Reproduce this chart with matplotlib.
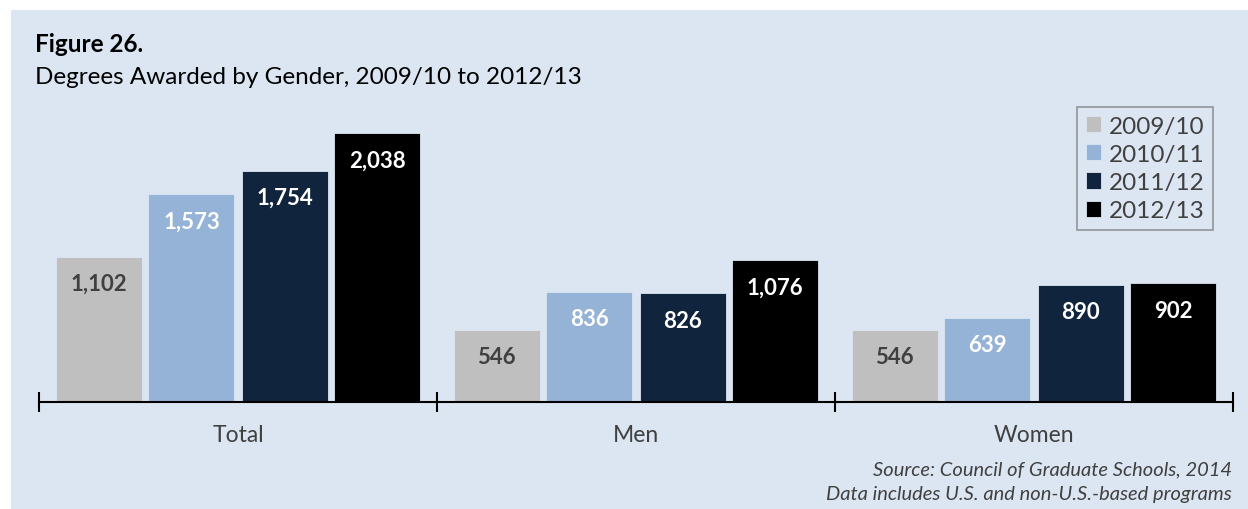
import numpy as np
from matplotlib import pyplot as plt
from matplotlib.patches import Rectangle

plt.rcParams['font.family'] = ['Lato', 'DejaVu Sans']

# Degrees awarded by gender
groups = ['Total', 'Men', 'Women']
years = ['2009/10', '2010/11', '2011/12', '2012/13']
values = {
    '2009/10': [1102, 546, 546],
    '2010/11': [1573, 836, 639],
    '2011/12': [1754, 826, 890],
    '2012/13': [2038, 1076, 902],
}
colors = ['#bfbfbf', '#95b3d7', '#10243e', '#000000']
label_colors = ['#404040', 'white', 'white', 'white']

fig = plt.figure(figsize=(12.48, 5.1), dpi=100)
fig.patch.set_facecolor('white')
fig.patches.append(Rectangle((11 / 1248, 0), 1, 499 / 510, transform=fig.transFigure,
                             facecolor='#dce6f2', edgecolor='none', zorder=-10))

ax = fig.add_axes([39 / 1248, 107 / 510, 1194 / 1248, 303 / 510])
ax.set_facecolor('none')

x = np.arange(len(groups))
offsets = [-0.35, -0.117, 0.117, 0.35]
width = 0.216
for i, yr in enumerate(years):
    bars = ax.bar(x + offsets[i], values[yr], width, color=colors[i], label=yr,
                  edgecolor='#dce6f2', linewidth=0.6)
    for b, v in zip(bars, values[yr]):
        ax.text(b.get_x() + b.get_width() / 2, v - 205, f'{v:,}', ha='center', va='center',
                fontsize=16, fontweight='bold', color=label_colors[i])

ax.set_xlim(-0.5, 2.5)
ax.set_ylim(0, 2296)
for s in ['top', 'right', 'left']:
    ax.spines[s].set_visible(False)
ax.spines['bottom'].set_linewidth(1.5)
ax.set_yticks([])
ax.set_xticks(x)
ax.set_xticklabels(groups, fontsize=16.5, color='#404040')
ax.tick_params(axis='x', which='major', length=0, pad=16)
ax.set_xticks([-0.5, 0.5, 1.5, 2.5], minor=True)
ax.tick_params(axis='x', which='minor', direction='inout', length=15, width=1.5)

fig.text(35 / 1248, 1 - 45 / 510, 'Figure 26.', fontsize=17.5, fontweight='bold', va='center')
fig.text(35 / 1248, 1 - 77 / 510, 'Degrees Awarded by Gender, 2009/10 to 2012/13', fontsize=17.5, va='center')
fig.text(1232 / 1248, 1 - 470 / 510, 'Source: Council of Graduate Schools, 2014', fontsize=14.5,
         style='italic', ha='right', va='center', color='#404040')
fig.text(1232 / 1248, 1 - 495 / 510, 'Data includes U.S. and non-U.S.-based programs', fontsize=14.5,
         style='italic', ha='right', va='center', color='#404040')

leg = fig.legend(loc='upper right', bbox_to_anchor=(1213 / 1248, 1 - 108 / 510), fontsize=17.5,
                 frameon=True, fancybox=False, edgecolor='#808080', facecolor='none',
                 handlelength=0.65, handleheight=0.65, handletextpad=0.3, labelspacing=0.3,
                 borderaxespad=0, borderpad=0.35, labelcolor='#404040')
leg.get_frame().set_linewidth(1.2)

plt.savefig('out.png', dpi=100)
